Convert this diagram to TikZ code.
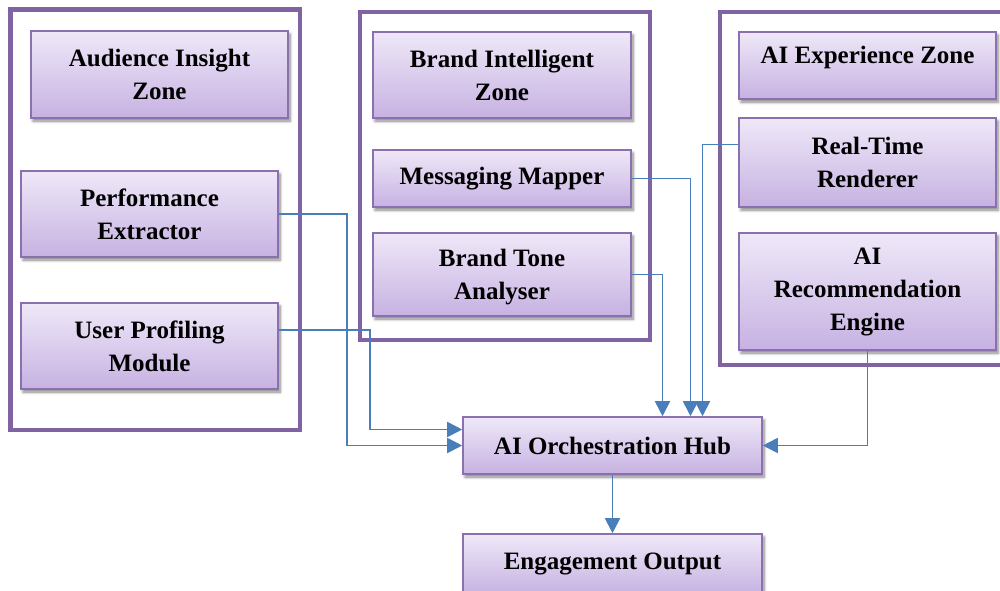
\documentclass[tikz,border=0pt]{standalone}
\usepackage{fontspec}
\setmainfont{Liberation Serif}
\usetikzlibrary{arrows.meta,shadows.blur}
\definecolor{zoneline}{HTML}{8064A2}
\definecolor{boxline}{HTML}{8A70AE}
\definecolor{boxtop}{HTML}{EFE8F8}
\definecolor{boxbot}{HTML}{C6B2E2}
\definecolor{linkblue}{HTML}{4A7EBB}
\tikzset{
  zone/.style={draw=zoneline, line width=4.5pt},
  box/.style={rectangle, draw=boxline, line width=1.6pt, top color=boxtop, bottom color=boxbot,
    align=center, inner sep=0pt, font=\bfseries\fontsize{25}{33}\selectfont,
    blur shadow={shadow xshift=2pt, shadow yshift=-3pt, shadow blur steps=6,
                 shadow blur radius=3pt, shadow opacity=50}},
  conn/.style={draw=linkblue, line width=1.9pt, -{Triangle[length=15pt,width=15pt]}}
}
\begin{document}
\begin{tikzpicture}[x=1pt,y=-1pt]
\useasboundingbox (0,0) rectangle (1000,590);
\clip (0,0) rectangle (1000,590);

% zone frames
\draw[zone] (10.5,9.5) rectangle (300,430);
\draw[zone] (360,12) rectangle (650,340);
\draw[zone] (720,12) rectangle (1020,365);

% audience insight zone
\node[box, minimum width=257pt, minimum height=87pt] (aud) at (159.5,74.5) {Audience Insight\\Zone};
\node[box, minimum width=257pt, minimum height=86pt] (perf) at (149.5,214) {Performance\\Extractor};
\node[box, minimum width=257pt, minimum height=86pt] (user) at (149.5,346) {User Profiling\\Module};

% brand intelligent zone
\node[box, minimum width=258pt, minimum height=86pt] (brand) at (502,75) {Brand Intelligent\\Zone};
\node[box, minimum width=258pt, minimum height=57pt] (msg) at (502,178.5) {Messaging Mapper};
\node[box, minimum width=258pt, minimum height=83pt] (tone) at (502,274.5) {\rule{0pt}{22pt}Brand Tone\\Analyser};

% AI experience zone
\node[box, minimum width=257pt, minimum height=67pt, text height=17pt, text depth=21pt] (exp) at (867.5,65.5) {AI Experience Zone};
\node[box, minimum width=257pt, minimum height=89pt] (rt) at (867.5,162.5) {Real-Time\\Renderer};
\node[box, minimum width=257pt, minimum height=117pt] (rec) at (867.5,291.5) {AI\\Recommendation\\Engine};

% hub and output
\node[box, minimum width=299pt, minimum height=57pt] (hub) at (612.5,445.5) {AI Orchestration Hub};
\node[box, minimum width=299pt, minimum height=60pt] (eng) at (612.5,564) {Engagement Output};

% connectors
\draw[conn] (perf.east) -| ([xshift=-115pt]hub.west) -- (hub.west);
\draw[conn] ([yshift=16pt]user.east) -| ([xshift=-92pt,yshift=16pt]hub.west) -- ([yshift=16pt]hub.west);
\draw[conn] (tone.east) -| ([xshift=50pt]hub.north);
\draw[conn] (msg.east) -| ([xshift=78pt]hub.north);
\draw[conn] ([yshift=18pt]rt.west) -| ([xshift=90pt]hub.north);
\draw[conn] (rec.south) |- (hub.east);
\draw[conn] (hub.south) -- (eng.north);
\end{tikzpicture}
\end{document}
